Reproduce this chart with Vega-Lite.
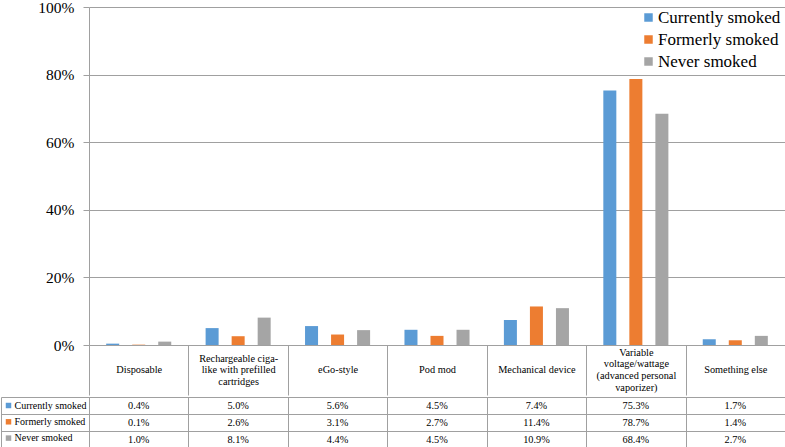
{
  "$schema": "https://vega.github.io/schema/vega-lite/v6.json",
  "padding": {"left": 0, "top": 0, "right": 1, "bottom": 0},
  "background": "white",
  "spacing": 0,
  "config": {
    "view": {"stroke": null},
    "font": "'Times New Roman', 'Liberation Serif', serif",
    "axis": {"labelFont": "'Times New Roman', 'Liberation Serif', serif"},
    "legend": {"labelFont": "'Times New Roman', 'Liberation Serif', serif"},
    "text": {"font": "'Times New Roman', 'Liberation Serif', serif"},
    "concat": {"spacing": 0}
  },
  "datasets": {
    "smoke": [
      {"device": "Disposable", "status": "Currently smoked", "pct": 0.004},
      {"device": "Disposable", "status": "Formerly smoked", "pct": 0.001},
      {"device": "Disposable", "status": "Never smoked", "pct": 0.010},
      {"device": "Rechargeable ciga-like with prefilled cartridges", "status": "Currently smoked", "pct": 0.050},
      {"device": "Rechargeable ciga-like with prefilled cartridges", "status": "Formerly smoked", "pct": 0.026},
      {"device": "Rechargeable ciga-like with prefilled cartridges", "status": "Never smoked", "pct": 0.081},
      {"device": "eGo-style", "status": "Currently smoked", "pct": 0.056},
      {"device": "eGo-style", "status": "Formerly smoked", "pct": 0.031},
      {"device": "eGo-style", "status": "Never smoked", "pct": 0.044},
      {"device": "Pod mod", "status": "Currently smoked", "pct": 0.045},
      {"device": "Pod mod", "status": "Formerly smoked", "pct": 0.027},
      {"device": "Pod mod", "status": "Never smoked", "pct": 0.045},
      {"device": "Mechanical device", "status": "Currently smoked", "pct": 0.074},
      {"device": "Mechanical device", "status": "Formerly smoked", "pct": 0.114},
      {"device": "Mechanical device", "status": "Never smoked", "pct": 0.109},
      {"device": "Variable voltage/wattage (advanced personal vaporizer)", "status": "Currently smoked", "pct": 0.753},
      {"device": "Variable voltage/wattage (advanced personal vaporizer)", "status": "Formerly smoked", "pct": 0.787},
      {"device": "Variable voltage/wattage (advanced personal vaporizer)", "status": "Never smoked", "pct": 0.684},
      {"device": "Something else", "status": "Currently smoked", "pct": 0.017},
      {"device": "Something else", "status": "Formerly smoked", "pct": 0.014},
      {"device": "Something else", "status": "Never smoked", "pct": 0.027}
    ]
  },
  "resolve": {
    "scale": {"x": "shared", "y": "independent", "color": "independent"},
    "axis": {"x": "independent", "y": "independent"},
    "legend": {"color": "independent"}
  },
  "vconcat": [
    {
      "width": 696,
      "height": 338,
      "data": {"name": "smoke"},
      "mark": {"type": "bar"},
      "encoding": {
        "x": {
          "field": "device", "type": "nominal",
          "sort": ["Disposable", "Rechargeable ciga-like with prefilled cartridges", "eGo-style", "Pod mod", "Mechanical device", "Variable voltage/wattage (advanced personal vaporizer)", "Something else"],
          "scale": {"paddingInner": 0, "paddingOuter": 0},
          "axis": {
            "title": null, "labelAngle": 0, "tickBand": "extent", "tickSize": 50,
            "tickColor": "#A0A0A0", "domainColor": "#A0A0A0",
            "labelBaseline": "top", "labelFontSize": 10.3,
            "labelFont": "'Times New Roman', 'Liberation Serif', serif",
            "labelPadding": {
              "condition": [
                {"test": "datum.value == 'Rechargeable ciga-like with prefilled cartridges'", "value": -42},
                {"test": "datum.value == 'Variable voltage/wattage (advanced personal vaporizer)'", "value": -48}
              ],
              "value": -30.5
            },
            "labelLineHeight": 11.7, "labelColor": "black", "labelLimit": 0,
            "labelOverlap": false, "labelBound": false,
            "minExtent": 50, "maxExtent": 50,
            "labelExpr": "datum.value == 'Rechargeable ciga-like with prefilled cartridges' ? ['Rechargeable ciga-', 'like with prefilled', 'cartridges'] : datum.value == 'Variable voltage/wattage (advanced personal vaporizer)' ? ['Variable', 'voltage/wattage', '(advanced personal', 'vaporizer)'] : datum.value"
          }
        },
        "xOffset": {
          "field": "status", "type": "nominal",
          "sort": ["Currently smoked", "Formerly smoked", "Never smoked"],
          "scale": {"paddingInner": 0.5, "paddingOuter": 0.66}
        },
        "y": {
          "field": "pct", "type": "quantitative",
          "scale": {"domain": [0, 1]},
          "axis": {
            "title": null, "format": ".0%", "values": [0, 0.2, 0.4, 0.6, 0.8, 1],
            "grid": true, "gridColor": "#A0A0A0", "domainColor": "#A0A0A0",
            "tickColor": "#A0A0A0", "tickSize": 6, "labelPadding": 9,
            "labelFont": "'Times New Roman', 'Liberation Serif', serif",
            "labelFontSize": 15.5, "labelColor": "black"
          }
        },
        "color": {
          "field": "status", "type": "nominal",
          "scale": {"domain": ["Currently smoked", "Formerly smoked", "Never smoked"], "range": ["#5B9BD5", "#ED7D31", "#A5A5A5"]},
          "legend": {
            "orient": "none", "legendX": 551, "legendY": 2, "title": null,
            "symbolType": "square", "symbolSize": 72, "symbolStrokeWidth": 0,
            "labelFont": "'Times New Roman', 'Liberation Serif', serif",
            "labelFontSize": 17, "labelColor": "black",
            "rowPadding": 4, "labelOffset": 1
          }
        }
      }
    },
    {
      "width": 696,
      "height": 51,
      "view": {"stroke": "#A0A0A0"},
      "data": {"name": "smoke"},
      "resolve": {"axis": {"y": "independent"}},
      "layer": [
        {
          "mark": {"type": "rect", "opacity": 0},
          "encoding": {
            "x": {
              "field": "device", "type": "nominal",
              "sort": ["Disposable", "Rechargeable ciga-like with prefilled cartridges", "eGo-style", "Pod mod", "Mechanical device", "Variable voltage/wattage (advanced personal vaporizer)", "Something else"],
              "scale": {"paddingInner": 0, "paddingOuter": 0},
              "axis": {"title": null, "labels": false, "ticks": false, "domain": false, "grid": true, "tickBand": "extent", "gridColor": "#A0A0A0"}
            },
            "y": {
              "field": "status", "type": "nominal",
              "sort": ["Currently smoked", "Formerly smoked", "Never smoked"],
              "scale": {"paddingInner": 0, "paddingOuter": 0},
              "axis": {"title": null, "labels": false, "ticks": true, "tickSize": 88, "tickColor": "#A0A0A0", "domain": false, "grid": true, "tickBand": "extent", "gridColor": "#A0A0A0"}
            },
            "color": {
              "field": "status", "type": "nominal",
              "scale": {"domain": ["Currently smoked", "Formerly smoked", "Never smoked"], "range": ["#5B9BD5", "#ED7D31", "#A5A5A5"]},
              "legend": {
                "orient": "none", "legendX": -85.5, "legendY": 3.5, "title": null,
                "symbolType": "square", "symbolSize": 30, "symbolStrokeWidth": 0, "symbolOpacity": 1,
                "labelFont": "'Times New Roman', 'Liberation Serif', serif",
                "labelFontSize": 10, "labelColor": "black",
                "rowPadding": 6.3, "labelOffset": 1
              }
            }
          }
        },
        {
          "mark": {"type": "text", "fontSize": 10.3, "color": "black", "font": "'Times New Roman', 'Liberation Serif', serif"},
          "encoding": {
            "x": {
              "field": "device", "type": "nominal",
              "sort": ["Disposable", "Rechargeable ciga-like with prefilled cartridges", "eGo-style", "Pod mod", "Mechanical device", "Variable voltage/wattage (advanced personal vaporizer)", "Something else"]
            },
            "y": {
              "field": "status", "type": "nominal",
              "sort": ["Currently smoked", "Formerly smoked", "Never smoked"],
              "axis": {"orient": "right", "offset": -784, "title": null, "labels": false, "ticks": false, "grid": false, "domain": true, "domainColor": "#A0A0A0"}
            },
            "text": {"field": "pct", "type": "quantitative", "format": ".1%"}
          }
        }
      ]
    }
  ]
}
